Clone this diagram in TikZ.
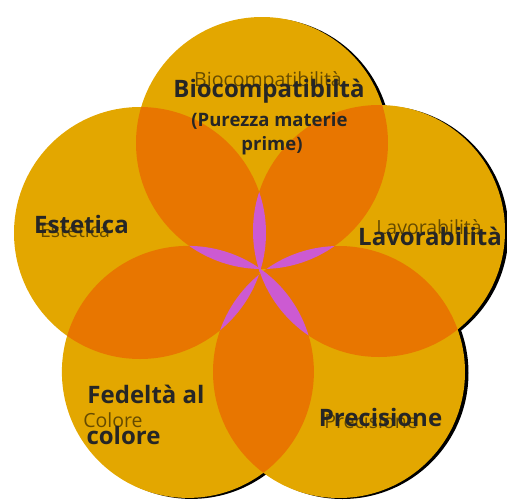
\documentclass[tikz,border=0pt]{standalone}
\usepackage{fontspec}
\setmainfont{Open Sans}
\definecolor{petY}{HTML}{E3A700}
\definecolor{petO}{HTML}{E87600}
\definecolor{petM}{HTML}{CC5AD2}
\definecolor{txt}{HTML}{262626}
\begin{document}
\begin{tikzpicture}[x=1pt,y=-1pt,
  boldlbl/.style={font=\bfseries\fontsize{24}{26}\selectfont, text=txt, inner sep=0, anchor=base},
  sublbl/.style={font=\bfseries\fontsize{18.5}{20}\selectfont, text=txt, inner sep=0, anchor=base},
  ghostlbl/.style={font=\fontsize{19.5}{21}\selectfont, text=black, text opacity=0.55, inner sep=0, anchor=base}]
\useasboundingbox (0,0) rectangle (507,501);
\def\R{126}
\coordinate (cT) at (262,143);
\coordinate (cR) at (379,231);
\coordinate (cL) at (140,233);
\coordinate (cBR) at (339,372);
\coordinate (cBL) at (187.9,371.9);
% shadow
\foreach \c in {cT,cR,cBR,cBL,cL} \fill[black] ([shift={(3.5,1)}]\c) circle (\R);
% single
\foreach \c in {cT,cR,cBR,cBL,cL} \fill[petY] (\c) circle (\R);
% adjacent pairs
\foreach \a/\b in {cT/cR,cR/cBR,cBR/cBL,cBL/cL,cL/cT}{
  \begin{scope}\clip (\a) circle (\R); \fill[petO] (\b) circle (\R);\end{scope}}
% non-adjacent pairs (petals)
\foreach \a/\b in {cL/cR,cT/cBR,cR/cBL,cBR/cL,cBL/cT}{
  \begin{scope}\clip (\a) circle (\R); \fill[petM] (\b) circle (\R);\end{scope}}
% labels
\node[ghostlbl] (g1) at (268,86) {Biocompatibilità};
\node[boldlbl] (t1) at (269,97) {Biocompatibiltà};
\node[sublbl] (t1b) at (269.5,126) {(Purezza materie};
\node[sublbl] (t1c) at (272,150) {prime)};
\node[ghostlbl] (g2) at (75,237) {Estetica};
\node[boldlbl] (t2) at (81.5,233) {Estetica};
\node[ghostlbl] (g3) at (429,234) {Lavorabilità};
\node[boldlbl] (t3) at (430,245) {Lavorabilità};
\node[boldlbl] (t4) at (146,403) {Fedeltà al};
\node[ghostlbl] (g4) at (113,427) {Colore};
\node[boldlbl] (t4b) at (123.5,444) {colore};
\node[ghostlbl] (g5) at (371,428) {Precisione};
\node[boldlbl] (t5) at (380.5,426) {Precisione};
\end{tikzpicture}
\end{document}
